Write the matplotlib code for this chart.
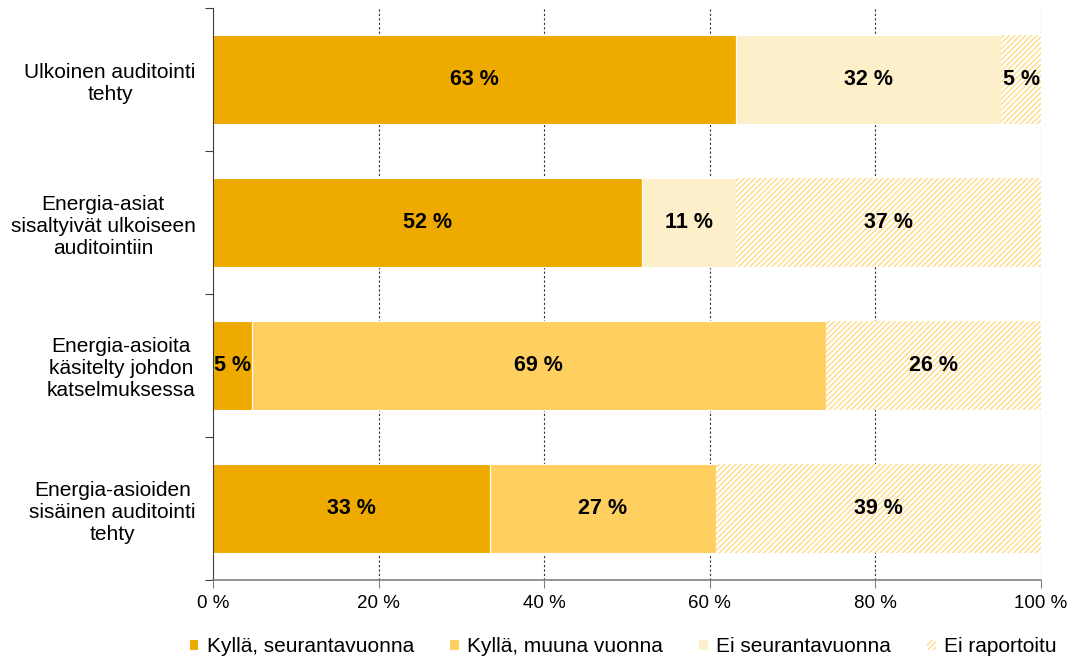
import numpy as np
import matplotlib
matplotlib.use("Agg")
import matplotlib.pyplot as plt
from matplotlib.patches import Patch

plt.rcParams['font.family'] = ['Liberation Sans', 'DejaVu Sans']
plt.rcParams['hatch.linewidth'] = 1.0

categories = [
    "Ulkoinen auditointi\ntehty",
    "Energia-asiat\nsisaltyivät ulkoiseen\nauditointiin",
    "Energia-asioita\nkäsitelty johdon\nkatselmuksessa",
    "Energia-asioiden\nsisäinen auditointi\ntehty",
]
series_names = ["Kyllä, seurantavuonna", "Kyllä, muuna vuonna",
                "Ei seurantavuonna", "Ei raportoitu"]
kylla_seur = [63.2, 51.8, 4.7, 33.4]
kylla_muu = [0.0, 0.0, 69.3, 27.3]
ei_seur = [32.0, 11.4, 0.0, 0.0]
ei_rap = [4.8, 36.8, 26.0, 39.3]

colors = ["#EFAA00", "#FFCF5F", "#FDEFC9", "white"]
hatch_col = "#FFDB85"

fig = plt.figure(figsize=(10.71, 6.61), dpi=100)
ax = fig.add_axes([213/1071, 1-580/661, (1041-213)/1071, (580-8)/661])

y = np.arange(len(categories))
left = np.zeros(len(categories))
handles = []
for name, vals, col in zip(series_names, [kylla_seur, kylla_muu, ei_seur, ei_rap], colors):
    vals = np.array(vals)
    if name == "Ei raportoitu":
        bars = ax.barh(y, vals, left=left, height=0.62, color="white",
                       edgecolor=hatch_col, linewidth=0, hatch="//////", zorder=2)
        handles.append(Patch(facecolor="white", edgecolor=hatch_col, linewidth=0,
                             hatch="//////", label=name))
    else:
        bars = ax.barh(y, vals, left=left, height=0.62, color=col,
                       edgecolor="white", linewidth=0.8, zorder=2)
        handles.append(Patch(facecolor=col, edgecolor="none", label=name))
    for b, v, l in zip(bars, vals, left):
        if v > 0:
            ax.text(l + v / 2, b.get_y() + b.get_height() / 2, f"{v:.0f} %",
                    ha="center", va="center", fontsize=15.5, fontweight="bold", zorder=3)
    left = left + vals

ax.set_xlim(0, 100)
ax.set_ylim(3.5, -0.5)
ax.set_xticks(np.arange(0, 101, 20))
ax.set_xticklabels([f"{t} %" for t in range(0, 101, 20)], fontsize=13.5)
ax.tick_params(axis="x", length=6, color="#808080", pad=5)
ax.xaxis.grid(True, linestyle=(0, (2, 2)), color="#303030", linewidth=0.8, zorder=0)
ax.set_axisbelow(True)

ax.set_yticks(np.arange(-0.5, 4, 1))
ax.set_yticklabels([])
ax.set_yticks(y, minor=True)
ax.set_yticklabels(categories, minor=True, fontsize=15, multialignment="center",
                   linespacing=1.2)
ax.tick_params(axis="y", which="major", length=6, color="#404040")
ax.tick_params(axis="y", which="minor", length=0, pad=12.5)

for s in ["top", "right"]:
    ax.spines[s].set_visible(False)
ax.spines["left"].set_color("#404040")
ax.spines["bottom"].set_color("#808080")
ax.spines["bottom"].set_linewidth(1.2)

fig.legend(handles=handles, loc="center", ncol=4, frameon=False,
           fontsize=15, bbox_to_anchor=(0.582, 1-647/661), handlelength=0.4,
           handleheight=0.4, handletextpad=0.4, columnspacing=1.75)

fig.savefig("out.png", dpi=100)
